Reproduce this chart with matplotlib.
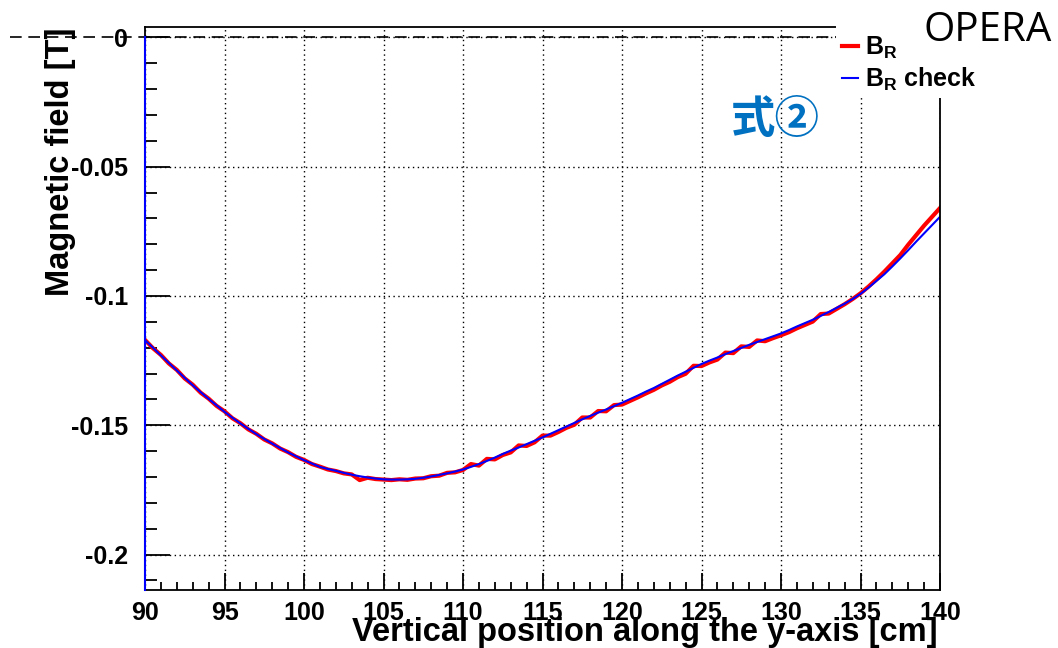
import matplotlib as mpl
mpl.use('Agg')
import matplotlib.pyplot as plt
import numpy as np
from matplotlib.patches import Rectangle
from matplotlib.ticker import MultipleLocator

# vertical position [cm], 0.5 cm steps
pos_cm = np.arange(90, 140.5, 0.5)

# B_R check (smooth)
br_check = [
    -0.1171, -0.1200, -0.1230, -0.1259, -0.1288, -0.1317, -0.1345, -0.1372, -0.1398, -0.1423,
    -0.1448, -0.1471, -0.1493, -0.1514, -0.1534, -0.1553, -0.1571, -0.1588, -0.1605, -0.1620,
    -0.1635, -0.1648, -0.1661, -0.1669, -0.1676, -0.1684, -0.1691, -0.1697, -0.1702, -0.1706,
    -0.1709, -0.1710, -0.1710, -0.1709, -0.1707, -0.1703, -0.1698, -0.1692, -0.1686, -0.1679,
    -0.1671, -0.1661, -0.1650, -0.1638, -0.1625, -0.1611, -0.1598, -0.1586, -0.1573, -0.1560,
    -0.1547, -0.1533, -0.1519, -0.1505, -0.1491, -0.1477, -0.1464, -0.1451, -0.1439, -0.1426,
    -0.1413, -0.1399, -0.1385, -0.1370, -0.1356, -0.1340, -0.1324, -0.1308, -0.1293, -0.1278,
    -0.1263, -0.1250, -0.1238, -0.1225, -0.1213, -0.1201, -0.1189, -0.1178, -0.1167, -0.1156,
    -0.1145, -0.1132, -0.1118, -0.1105, -0.1092, -0.1077, -0.1062, -0.1046, -0.1030, -0.1012,
    -0.0992, -0.0968, -0.0942, -0.0916, -0.0886, -0.0855, -0.0823, -0.0790, -0.0758, -0.0726,
    -0.0694,
]

# B_R (measured, noisy)
br_meas = [
    -0.1170, -0.1202, -0.1228, -0.1261, -0.1286, -0.1319, -0.1343, -0.1374, -0.1397, -0.1425,
    -0.1446, -0.1473, -0.1492, -0.1516, -0.1533, -0.1555, -0.1570, -0.1590, -0.1604, -0.1622,
    -0.1634, -0.1650, -0.1660, -0.1671, -0.1677, -0.1686, -0.1690, -0.1712, -0.1703, -0.1708,
    -0.1710, -0.1712, -0.1709, -0.1711, -0.1706, -0.1705, -0.1697, -0.1695, -0.1684, -0.1682,
    -0.1673, -0.1650, -0.1656, -0.1630, -0.1632, -0.1615, -0.1605, -0.1578, -0.1580, -0.1566,
    -0.1540, -0.1540, -0.1526, -0.1510, -0.1498, -0.1470, -0.1470, -0.1445, -0.1446, -0.1422,
    -0.1420, -0.1406, -0.1392, -0.1377, -0.1363, -0.1346, -0.1332, -0.1314, -0.1301, -0.1270,
    -0.1271, -0.1257, -0.1246, -0.1219, -0.1221, -0.1195, -0.1197, -0.1172, -0.1175, -0.1163,
    -0.1152, -0.1140, -0.1125, -0.1112, -0.1099, -0.1070, -0.1068, -0.1050, -0.1032, -0.1012,
    -0.0990, -0.0964, -0.0936, -0.0906, -0.0874, -0.0842, -0.0802, -0.0765, -0.0728, -0.0694,
    -0.0660,
]

plt.rcParams['font.family'] = ['Liberation Sans', 'DejaVu Sans']
plt.rcParams['font.weight'] = 'bold'
plt.rcParams['mathtext.fontset'] = 'custom'
plt.rcParams['mathtext.bf'] = 'Liberation Sans:bold'
plt.rcParams['mathtext.rm'] = 'Liberation Sans:bold'

W, H = 1058, 648
fig = plt.figure(figsize=(W / 100, H / 100), dpi=100)
ax = fig.add_axes([145 / W, 1 - 590 / H, (940 - 145) / W, (590 - 27) / H])

ax.plot(pos_cm, br_meas, color='#ff0000', lw=3, label=r'$\mathbf{B_R}$')
ax.plot(pos_cm, br_check, color='#0000ff', lw=1.5, label=r'$\mathbf{B_R}$ check')

ax.set_xlim(90, 140)
ax.set_ylim(-0.2137, 0.0040)

# blue edge at the start of the check graph
ax.plot([pos_cm[0], pos_cm[0]], [0, -0.2137], color='#0000ff', lw=1.5, clip_on=False, zorder=4)

# dashed zero line running out to the left
ax.plot([81.5, 140], [0, 0], color='black', lw=1.2, ls=(0, (7, 4)), clip_on=False, zorder=3)

ax.xaxis.set_major_locator(MultipleLocator(5))
ax.xaxis.set_minor_locator(MultipleLocator(1))
ax.yaxis.set_major_locator(MultipleLocator(0.05))
ax.yaxis.set_minor_locator(MultipleLocator(0.01))
ax.yaxis.set_major_formatter(mpl.ticker.FuncFormatter(lambda v, p: f'{v:g}' if abs(v) > 1e-9 else '0'))

ax.tick_params(axis='both', which='both', direction='in', top=False, right=False,
               color='black', width=1.3, labelsize=18)
ax.tick_params(axis='y', which='major', length=18, pad=12)
ax.tick_params(axis='y', which='minor', length=8.5)
ax.tick_params(axis='x', which='major', length=12, pad=8)
ax.tick_params(axis='x', which='minor', length=6)
for lab in ax.get_xticklabels() + ax.get_yticklabels():
    lab.set_fontweight('bold')

ax.grid(True, which='major', color='black', lw=1, ls=(0, (1, 2.5)))
for s in ax.spines.values():
    s.set_linewidth(1.3)

fig.text(938 / W, 1 - 641 / H, 'Vertical position along the y-axis [cm]',
         ha='right', va='baseline', fontsize=23.5, fontweight='bold')
fig.text(61 / W, 1 - 28 / H, 'Magnetic field [T]', rotation=90,
         ha='center', va='top', fontsize=23.5, fontweight='bold')

# white box behind the legend
fig.add_artist(Rectangle((836 / W, 1 - 98 / H), (990 - 836) / W, (98 - 18) / H,
                         transform=fig.transFigure, facecolor='white',
                         edgecolor='none', zorder=3))

h, l = ax.get_legend_handles_labels()
leg = fig.legend(h, l, loc='upper left', bbox_to_anchor=(842 / W, 1 - 35 / H),
                 frameon=False, fontsize=18, handlelength=0.62, handletextpad=0.3,
                 labelspacing=0.2, borderpad=0, borderaxespad=0)
leg.set_zorder(4)
for t in leg.get_texts():
    t.set_fontweight('bold')

fig.text(988 / W, 1 - 31 / H, 'OPERA', ha='center', va='center',
         fontsize=29, family='Open Sans', fontweight='normal', zorder=6)
fig.text(775 / W, 1 - 120 / H, '式②', ha='center', va='center', color='#0070c0',
         fontsize=32, family=['Noto Sans CJK JP', 'DejaVu Sans'], fontweight='bold', zorder=6)

fig.savefig('out.png', dpi=100)
